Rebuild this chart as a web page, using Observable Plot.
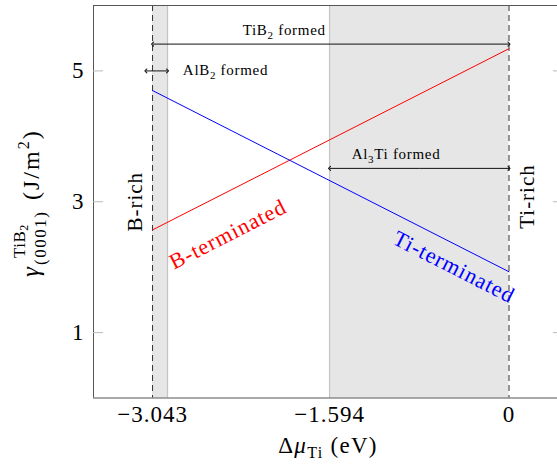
<!DOCTYPE html>
<html><head><meta charset="utf-8">
<script src="https://cdn.jsdelivr.net/npm/d3@7"></script>
<script src="https://cdn.jsdelivr.net/npm/@observablehq/plot@0.6"></script>
<style>
html,body{margin:0;padding:0;background:#fff;overflow:hidden}
svg text, svg tspan { font-family: 'Liberation Serif', serif !important; }
</style></head><body><div id="chart"></div>
<script>
// ---- data ----
const mu = [-3.043, 0];                       // Δμ_Ti end points (eV)
const bTerminated = [2.57, 5.34];             // γ, B-terminated (J/m²)
const tiTerminated = [4.70, 1.93];            // γ, Ti-terminated (J/m²)
const xTicks = [-3.043, -1.532, 0];
const xTickLabels = ["−3.043", "−1.594", "0"];
const yTicks = [1, 3, 5];
const yTickLabels = ["1", "3", "5"];
const xDomain = [-3.547, 0.414];
const yDomain = [0, 6];
const bandStart = [-3.043, -1.532];
const bandEnd = [-2.915, 0];
const limitLines = [-3.043, 0];               // B-rich / Ti-rich limits
const arrowNames = ["TiB2", "AlB2", "Al3Ti"];
const arrowFrom = [-3.043, -3.10, -1.532];
const arrowTo = [0, -2.915, 0];
const arrowY = [5.41, 5.0, 3.51];
const sideLabels = ["B-rich", "Ti-rich"];
const sideX = [-3.19, 0.158];
const sideY = [3.0, 3.08];

// ---- tables built from arrays ----
const bands = bandStart.map((s, i) => ({x1: s, x2: bandEnd[i]}));
const bRows = mu.map((m, i) => ({mu: m, g: bTerminated[i]}));
const tiRows = mu.map((m, i) => ({mu: m, g: tiTerminated[i]}));
const arrowSegs = [];
arrowFrom.forEach((a, i) => {
  const mid = (a + arrowTo[i]) / 2;
  arrowSegs.push({x1: mid, x2: a, y: arrowY[i]});
  arrowSegs.push({x1: mid, x2: arrowTo[i], y: arrowY[i]});
});
const sides = sideLabels.map((t, i) => ({text: t, x: sideX[i], y: sideY[i]}));

const plot = Plot.plot({
  width: 557, height: 470,
  marginLeft: 93, marginRight: 0, marginTop: 5, marginBottom: 72.5,
  style: {fontFamily: "'Liberation Serif', serif", fontSize: "23px", background: "#fff", letterSpacing: "1px", color: "#000"},
  x: {domain: xDomain},
  y: {domain: yDomain},
  marks: [
    Plot.rect(bands, {x1: "x1", x2: "x2", fill: "#e6e6e6"}),
    Plot.ruleX(bandEnd.slice(0, 1).concat(bandStart.slice(1)), {stroke: "#c4c4c4", strokeWidth: 1.2}),
    Plot.ruleX(limitLines, {stroke: "#333", strokeDasharray: "6,4", strokeWidth: 1}),
    Plot.ruleY(yDomain, {stroke: "#555", strokeWidth: 1}),
    Plot.ruleX([xDomain[0]], {stroke: "#555", strokeWidth: 1}),
    Plot.line(bRows, {x: "mu", y: "g", stroke: "#ff0000", strokeWidth: 1}),
    Plot.line(tiRows, {x: "mu", y: "g", stroke: "#0000ff", strokeWidth: 1}),
    Plot.link(arrowSegs, {x1: "x1", x2: "x2", y1: "y", y2: "y", stroke: "#111", strokeWidth: 1, markerEnd: "arrow"}),
    Plot.text(sides, {x: "x", y: "y", text: "text", rotate: -90, fontSize: 21, fill: "#000"}),
    Plot.text([{x: -2.40, y: 2.50}], {x: "x", y: "y", text: () => "B-terminated", rotate: -27, fontSize: 22, fill: "#ff0000"}),
    Plot.text([{x: -0.47, y: 2.00}], {x: "x", y: "y", text: () => "Ti-terminated", rotate: 27, fontSize: 22, fill: "#0000ff"}),
    Plot.axisX({ticks: xTicks, tickSize: 0, tickPadding: 8, tickFormat: d => xTickLabels[xTicks.indexOf(d)], label: null}),
    Plot.axisY({ticks: yTicks, tickSize: 0, tickPadding: 9, tickFormat: d => yTickLabels[yTicks.indexOf(d)], label: null}),
    Plot.axisY({ticks: yTicks, tickSize: -10, tickFormat: () => "", label: null, stroke: "#bbb"}),
    Plot.axisY({anchor: "right", ticks: yTicks, tickSize: -5, tickFormat: () => "", label: null, stroke: "#bbb"})
  ]
});
document.getElementById("chart").appendChild(plot);

const sx = plot.scale("x"), sy = plot.scale("y");
const svg = d3.select(plot);

// annotation labels with sub-scripts
const ann = [
  {parts: [["TiB", 0], ["2", 1], [" formed", 0]], x: -1.915, y: 5.62, anchor: "middle"},
  {parts: [["AlB", 0], ["2", 1], [" formed", 0]], x: -2.78, y: 5.0, anchor: "start"},
  {parts: [["Al", 0], ["3", 1], ["Ti formed", 0]], x: -0.96, y: 3.72, anchor: "middle"}
];
ann.forEach(a => {
  const t = svg.append("text")
    .attr("x", sx.apply(a.x)).attr("y", sy.apply(a.y) + 5)
    .attr("text-anchor", a.anchor)
    .attr("font-size", 15).attr("letter-spacing", "0.7px").attr("fill", "#000");
  let prev = 0;
  a.parts.forEach(([s, sub]) => {
    const dy = sub ? 4 : 0;
    t.append("tspan").attr("dy", dy - prev).attr("font-size", sub ? 11 : 15).text(s);
    prev = dy;
  });
});

// x axis label
const xl = svg.append("text").attr("x", 328).attr("y", 453)
  .attr("text-anchor", "middle").attr("font-size", 23).attr("letter-spacing", "1.3px").attr("fill", "#000");
xl.append("tspan").text("Δ");
xl.append("tspan").attr("font-style", "italic").text("μ");
xl.append("tspan").attr("font-size", 16).attr("dy", 5).text("Ti");
xl.append("tspan").attr("dy", -5).text(" (eV)");

// y axis label (rotated; local x runs upward on screen)
const g = svg.append("g").attr("fill", "#000").attr("text-anchor", "start")
  .attr("transform", "translate(39,277) rotate(-90)");
g.append("text").attr("x", 0).attr("y", 0).attr("font-size", 25).attr("font-style", "italic").text("γ");
const tsup = g.append("text").attr("x", 19).attr("y", -14).attr("font-size", 17).attr("letter-spacing", "0.5px");
tsup.append("tspan").text("TiB");
tsup.append("tspan").attr("font-size", 12).attr("dy", 3).text("2");
g.append("text").attr("x", 12).attr("y", 7).attr("font-size", 17).attr("letter-spacing", "1.5px").text("(0001)");
const tr = g.append("text").attr("x", 77).attr("y", 0).attr("font-size", 24).attr("letter-spacing", "2px");
tr.append("tspan").text("(J/m");
tr.append("tspan").attr("font-size", 16).attr("dy", -10).text("2");
tr.append("tspan").attr("dy", 10).text(")");
</script></body></html>
